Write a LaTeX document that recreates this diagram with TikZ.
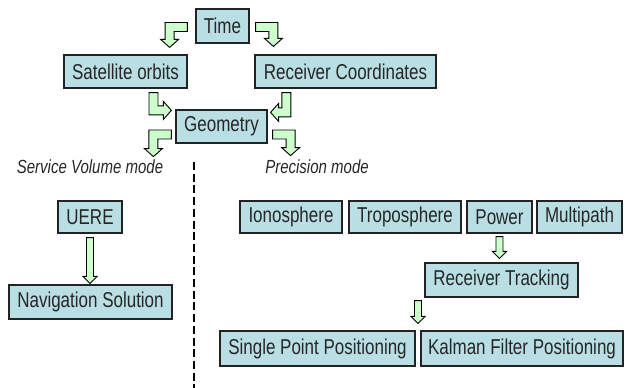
\documentclass[tikz,border=0pt]{standalone}
\usepackage{fontspec}
\setmainfont{Liberation Sans}[FakeStretch=0.79]
\usetikzlibrary{calc}
\definecolor{boxfill}{RGB}{185,222,228}
\definecolor{arrfill}{RGB}{204,255,204}
\definecolor{boxline}{RGB}{35,35,35}
\newcommand{\arW}{4.5pt}
\newcommand{\arH}{9pt}
\newcommand{\arL}{8pt}
\newcommand{\stW}{3.5pt}
\newcommand{\stH}{7pt}
\newcommand{\stL}{7pt}
% horizontal bar, then down: #1 start, #2 gives shaft x, #3 gives tip y
\newcommand{\bentHV}[3]{%
  \path[blockarrow] let \p1=(#1), \p2=(#2), \p3=(#3), \n1={sign(\x1-\x2)} in
    ({\x1},{\y1+\arW}) -- ({\x2-\n1*\arW},{\y1+\arW}) -- ({\x2-\n1*\arW},{\y3+\arL})
    -- ({\x2-\n1*\arH},{\y3+\arL}) -- ({\x2},{\y3}) -- ({\x2+\n1*\arH},{\y3+\arL})
    -- ({\x2+\n1*\arW},{\y3+\arL}) -- ({\x2+\n1*\arW},{\y1-\arW}) -- ({\x1},{\y1-\arW}) -- cycle;}
% vertical bar down, then sideways: #1 start, #2 gives bar y, #3 gives tip x
\newcommand{\bentVH}[3]{%
  \path[blockarrow] let \p1=(#1), \p2=(#2), \p3=(#3), \n1={sign(\x3-\x1)} in
    ({\x1-\n1*\arW},{\y1}) -- ({\x1-\n1*\arW},{\y2-\arW}) -- ({\x3-\n1*\arL},{\y2-\arW})
    -- ({\x3-\n1*\arL},{\y2-\arH}) -- ({\x3},{\y2}) -- ({\x3-\n1*\arL},{\y2+\arH})
    -- ({\x3-\n1*\arL},{\y2+\arW}) -- ({\x1+\n1*\arW},{\y2+\arW}) -- ({\x1+\n1*\arW},{\y1}) -- cycle;}
% straight down: #1 gives x, #2 gives start y, #3 gives tip y
\newcommand{\straightdown}[3]{%
  \path[blockarrow] let \p1=(#1), \p2=(#2), \p3=(#3) in
    ({\x1-\stW},{\y2}) -- ({\x1-\stW},{\y3+\stL}) -- ({\x1-\stH},{\y3+\stL}) -- ({\x1},{\y3})
    -- ({\x1+\stH},{\y3+\stL}) -- ({\x1+\stW},{\y3+\stL}) -- ({\x1+\stW},{\y2}) -- cycle;}
\tikzset{
  box/.style={draw=boxline, fill=boxfill, line width=1.2pt, inner sep=0pt,
    font=\fontsize{21.5}{25}\selectfont, text=black!85},
  modelabel/.style={inner sep=0pt, font=\fontsize{19}{22}\selectfont\itshape, text=black!85},
  blockarrow/.style={fill=arrfill, draw=black, line width=0.9pt, line join=miter},
  divider/.style={draw=black, line width=2.4pt, dash pattern=on 8pt off 3.7pt}
}
\begin{document}
\begin{tikzpicture}[x=1pt,y=-1pt]
\useasboundingbox (0,0) rectangle (629,388);
% boxes
\node[box, minimum width=53, minimum height=34] (time) at (222.5,26) {Time};
\node[box, minimum width=123, minimum height=33] (sat) at (125.5,71.5) {Satellite orbits};
\node[box, minimum width=181, minimum height=33] (rec) at (345.5,71.5) {Receiver Coordinates};
\node[box, minimum width=91, minimum height=33] (geo) at (221.5,126.5) {Geometry};
\node[modelabel] (svl) at (90,167) {Service Volume mode};
\node[modelabel] (prl) at (317,167) {Precision mode};
\node[box, minimum width=64, minimum height=32] (uere) at (90,217) {UERE};
\node[box, minimum width=163, minimum height=34] (nav) at (90.5,302) {Navigation Solution};
\node[box, minimum width=102, minimum height=32] (iono) at (291,217) {Ionosphere};
\node[box, minimum width=112, minimum height=32] (tropo) at (405,217) {Troposphere};
\node[box, minimum width=65, minimum height=32] (power) at (499.5,217) {Power};
\node[box, minimum width=85, minimum height=32] (multi) at (579.5,217) {Multipath};
\node[box, minimum width=153, minimum height=34] (rtrack) at (501.5,280) {Receiver Tracking};
\node[box, minimum width=195, minimum height=35] (spp) at (317.5,348.5) {Single Point Positioning};
\node[box, minimum width=202, minimum height=35] (kfp) at (522,348.5) {Kalman Filter Positioning};
% divider
\coordinate (dtop) at (194,162);
\coordinate (dbot) at (194,388);
\draw[divider] (dtop) -- (dbot);
% bent arrows
\bentHV{$(time.west)+(-8,1)$}{$(sat.north east)+(-18,0)$}{$(sat.north)+(0,-7)$}
\bentHV{$(time.east)+(6,1)$}{$(rec.north west)+(19,0)$}{$(rec.north)+(0,-8)$}
\bentVH{$(sat.south)+(28,4)$}{$(geo.north west)+(0,1)$}{$(geo.north west)+(-4,0)$}
\bentVH{$(rec.south west)+(32,4)$}{$(geo.north east)+(0,3)$}{$(geo.north east)+(3,0)$}
\bentHV{$(geo.west)+(-4,8)$}{$(geo.west)+(-22,0)$}{$(geo.south)+(0,13)$}
\bentHV{$(geo.east)+(5,8)$}{$(geo.east)+(23,0)$}{$(geo.south)+(0,12)$}
% straight arrows
\straightdown{uere.south}{$(uere.south)+(0,4)$}{$(nav.north)+(0,-1)$}
\straightdown{power.south}{$(power.south)+(0,3)$}{$(rtrack.north)+(0,-4)$}
\straightdown{$(spp.north east)!0.5!(kfp.north west)$}{$(rtrack.south)+(0,3)$}{$(spp.north)+(0,-7)$}
\end{tikzpicture}
\end{document}
